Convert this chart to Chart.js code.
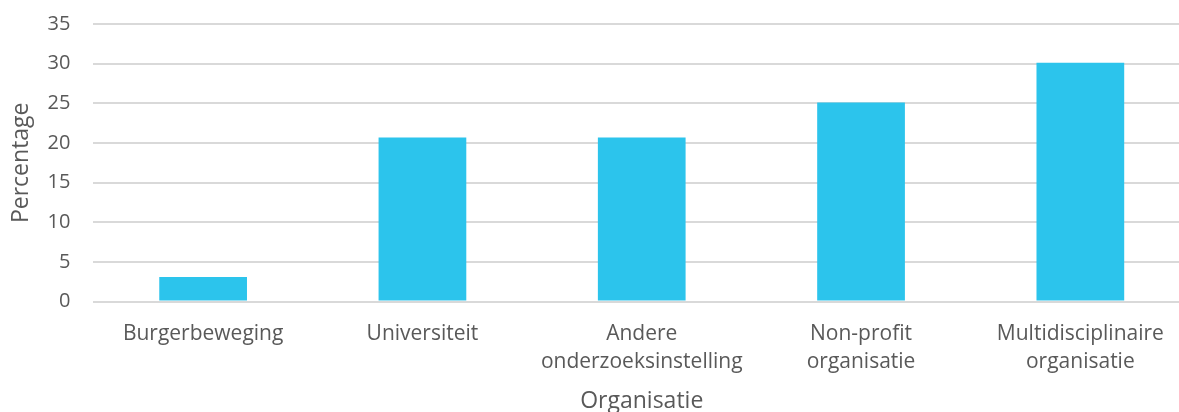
<!DOCTYPE html>
<html>
<head>
<meta charset="utf-8">
<script src="https://cdn.jsdelivr.net/npm/chart.js@4"></script>
<style>
  html, body { margin: 0; padding: 0; background: #fff; overflow: hidden; }
  #wrap { width: 1190px; height: 426px; margin-top: -11px; position: relative; }
</style>
</head>
<body>
<div id="wrap"><canvas id="chart"></canvas></div>
<script>
// categories (multi-line labels) and percentages
const categories = [
  "Burgerbeweging",
  "Universiteit",
  ["Andere", "onderzoeksinstelling"],
  ["Non-profit", "organisatie"],
  ["Multidisciplinaire", "organisatie"]
];
const percentages = [3.1, 20.7, 20.7, 25.1, 30.1];
const yTicks = [0, 5, 10, 15, 20, 25, 30, 35];

const textColor = "#595959";
const fontFamily = "'Open Sans', sans-serif";

const ctx = document.getElementById("chart").getContext("2d");
new Chart(ctx, {
  type: "bar",
  data: {
    labels: categories,
    datasets: [{
      data: percentages,
      backgroundColor: "#2CC4EC",
      categoryPercentage: 1.0,
      barPercentage: 0.4,
    }],
  },
  options: {
    responsive: true,
    maintainAspectRatio: false,
    animation: false,
    layout: { padding: { top: 0, left: 8, right: 0, bottom: 0 } },
    plugins: { legend: { display: false }, tooltip: { enabled: false } },
    scales: {
      x: {
        grid: { display: false },
        border: { display: false },
        ticks: {
          color: textColor,
          font: { family: fontFamily, size: 21, lineHeight: 1.33 },
          padding: 11,
          maxRotation: 0,
          autoSkip: false,
        },
        title: {
          display: true,
          text: "Organisatie",
          color: textColor,
          font: { family: fontFamily, size: 23, lineHeight: 1.2 },
          padding: { top: 0, bottom: 0 },
        },
      },
      y: {
        min: 0,
        max: 35,
        afterBuildTicks: (axis) => { axis.ticks = yTicks.map((v) => ({ value: v })); },
        grid: { color: "#d9d9d9", lineWidth: 2, drawTicks: false },
        border: { display: false },
        ticks: {
          color: textColor,
          font: { family: fontFamily, size: 20 },
          padding: 23,
        },
        title: {
          display: true,
          text: "Percentage",
          color: textColor,
          font: { family: fontFamily, size: 23, lineHeight: 1.2 },
          padding: { top: 0, bottom: -11 },
        },
      },
    },
  },
});
</script>
</body>
</html>
